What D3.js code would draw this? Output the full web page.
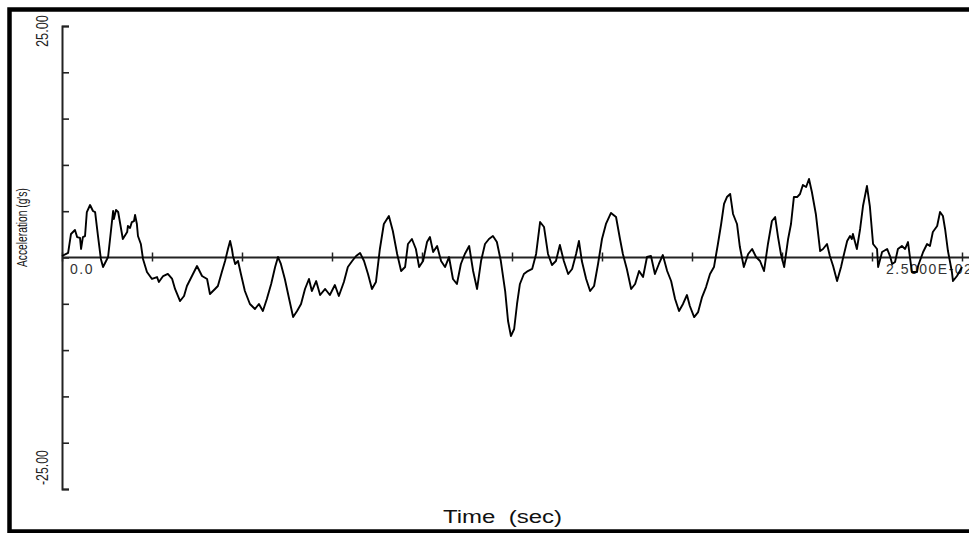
<!DOCTYPE html>
<html><head><meta charset="utf-8">
<script src="https://cdn.jsdelivr.net/npm/d3@7/dist/d3.min.js"></script>
<style>html,body{margin:0;padding:0;background:#fff;} svg{display:block;font-family:"Liberation Sans",Arial,sans-serif;}</style>
</head><body>
<svg id="chart" width="969" height="533"></svg>
<script>
// Time in milliseconds (axis runs 0 .. 2.5000E-02 s)
const timeMs = [0,0.17,0.25,0.36,0.42,0.5,0.53,0.58,0.64,0.69,0.78,0.86,0.92,1.0,1.08,1.14,1.28,1.42,1.44,1.5,1.56,1.69,1.81,1.83,1.89,1.94,2.0,2.03,2.08,2.11,2.19,2.25,2.36,2.5,2.64,2.69,2.81,2.94,3.06,3.14,3.28,3.39,3.47,3.61,3.75,3.89,4.03,4.11,4.25,4.33,4.44,4.53,4.61,4.67,4.72,4.75,4.81,4.89,4.97,5.08,5.22,5.36,5.47,5.58,5.69,5.81,5.92,6.0,6.08,6.19,6.31,6.42,6.53,6.64,6.75,6.86,6.94,7.06,7.17,7.31,7.44,7.58,7.69,7.83,7.94,8.06,8.17,8.28,8.39,8.5,8.61,8.72,8.83,8.94,9.08,9.19,9.31,9.42,9.53,9.61,9.72,9.83,9.92,10.03,10.14,10.22,10.31,10.42,10.53,10.64,10.75,10.86,10.97,11.08,11.19,11.31,11.42,11.53,11.64,11.75,11.86,11.97,12.08,12.19,12.31,12.39,12.47,12.56,12.64,12.72,12.83,12.94,13.06,13.17,13.28,13.39,13.5,13.61,13.72,13.83,13.94,14.06,14.17,14.28,14.36,14.44,14.56,14.67,14.78,14.89,15.0,15.11,15.25,15.39,15.5,15.58,15.69,15.81,15.92,16.03,16.14,16.25,16.36,16.47,16.58,16.69,16.81,16.92,17.03,17.14,17.25,17.36,17.44,17.56,17.67,17.78,17.89,18.0,18.11,18.22,18.31,18.39,18.47,18.56,18.64,18.75,18.83,18.94,19.06,19.17,19.28,19.39,19.5,19.61,19.72,19.81,19.89,19.97,20.06,20.17,20.25,20.33,20.42,20.5,20.58,20.67,20.75,20.83,20.94,21.06,21.14,21.25,21.33,21.42,21.53,21.64,21.69,21.81,21.89,21.94,21.97,22.08,22.17,22.25,22.36,22.44,22.53,22.64,22.67,22.78,22.92,23.0,23.06,23.14,23.22,23.33,23.42,23.5,23.56,23.61,23.75,23.78,23.83,23.92,24.03,24.11,24.19,24.31,24.39,24.47,24.53,24.61,24.72,24.75,24.86,24.94,25.0];
// Acceleration in g's
const accelG = [0.16,0.49,2.54,2.97,2.21,2.11,0.92,2.21,2.32,4.91,5.67,5.02,4.91,2.32,-0.16,-1.03,0.05,5.02,4.16,5.13,4.91,2.00,2.75,3.40,3.19,3.83,3.94,4.59,3.62,2.32,1.46,-0.16,-1.57,-2.32,-2.11,-2.65,-2.00,-1.78,-2.32,-3.40,-4.70,-4.16,-3.08,-2.00,-0.92,-2.00,-2.32,-3.94,-3.40,-3.08,-1.57,-0.38,0.92,1.78,0.92,0.16,-0.70,-0.38,-1.78,-3.62,-5.02,-5.56,-5.02,-5.78,-4.48,-2.86,-1.03,0.05,-0.70,-2.32,-4.48,-6.43,-5.78,-5.02,-3.40,-2.32,-3.62,-2.54,-4.05,-3.40,-4.05,-2.97,-4.16,-2.65,-1.03,-0.38,0.16,0.49,-0.38,-1.78,-3.40,-2.65,0.92,3.62,4.48,2.86,0.38,-1.46,-1.03,1.46,2.00,0.92,-1.03,-0.38,1.67,2.21,0.59,1.24,-0.38,-1.03,0.05,-2.32,-2.86,-0.70,0.38,1.24,-1.46,-3.40,-0.38,1.46,2.00,2.32,1.67,-0.38,-3.62,-6.86,-8.48,-7.72,-5.02,-2.86,-1.78,-1.46,-1.24,0.38,3.83,3.29,0.38,-0.81,-0.38,1.35,-0.38,-1.78,-1.24,0.38,1.78,-0.38,-2.32,-3.62,-3.08,-0.70,2.00,3.62,4.81,4.37,2.00,0.38,-1.24,-3.40,-2.86,-1.46,-2.11,0.05,0.16,-1.78,-0.70,0.27,-1.46,-2.54,-4.48,-5.78,-5.02,-4.05,-5.24,-6.43,-5.89,-4.27,-3.19,-1.78,-1.03,1.46,3.62,5.78,6.53,6.86,4.70,3.62,1.13,-1.03,0.38,0.92,0.05,-0.38,-1.46,1.46,3.94,4.37,2.21,0.38,-1.03,2.00,3.62,6.53,6.53,6.86,7.83,7.61,8.48,7.07,4.70,0.70,0.92,1.46,0.16,-0.92,-2.54,-1.03,-0.16,1.78,2.32,2.00,2.54,0.92,3.08,5.56,7.72,5.56,1.46,0.92,-1.03,0.59,0.92,0.16,-0.70,-0.49,0.92,1.24,0.92,1.67,-0.16,-1.57,-1.57,-0.92,-0.38,0.59,1.46,1.24,2.75,3.40,4.91,4.48,3.08,0.70,-1.57,-2.54,-2.00,-1.46,-1.03];
const yTicks = [-25,-20,-15,-10,-5,0,5,10,15,20,25];
const xTicks = [0,2.5,5,7.5,10,12.5,15,17.5,20,22.5,25];
const yEndLabels = ["-25.00","25.00"];
const xEndLabels = ["0.0","2.5000E-02"];
const xTitle = "Time  (sec)";
const yTitle = "Acceleration (g's)";

const W = 969, H = 533;
const svg = d3.select("#chart");
const x = d3.scaleLinear().domain([0,25]).range([62,962]);
const y = d3.scaleLinear().domain([-25,25]).range([489,26]);

// frame
svg.append("rect").attr("x",9.5).attr("y",9.5).attr("width",990).attr("height",522)
  .attr("fill","none").attr("stroke","#000").attr("stroke-width",4.5);

// y axis
const gy = svg.append("g").attr("transform",`translate(${x(0)},0)`)
  .call(d3.axisRight(y).tickValues(yTicks).tickSize(7).tickSizeOuter(7).tickFormat(""));
gy.select(".domain").attr("stroke","#222").attr("stroke-width",2);
gy.selectAll(".tick line").attr("stroke","#222").attr("stroke-width",1.6);

// x axis (zero line)
const gx = svg.append("g").attr("transform",`translate(0,${y(0)})`)
  .call(d3.axisBottom(x).tickValues(xTicks).tickSizeOuter(0).tickFormat(""));
gx.select(".domain").attr("d",`M${x.range()[0]},0H${W}`).attr("stroke","#222").attr("stroke-width",1.8);
gx.selectAll(".tick line").attr("y1",-5).attr("y2",4).attr("stroke","#222").attr("stroke-width",1.5);

// x tick labels
svg.append("text").attr("x",x(0)+8).attr("y",y(0)+16.5).attr("font-size",14)
  .attr("letter-spacing",1.5).attr("fill","#333").text(xEndLabels[0]);
svg.append("text").attr("x",x(25)-76).attr("y",y(0)+16).attr("font-size",14)
  .attr("letter-spacing",1.5).attr("fill","#333").text(xEndLabels[1]);

// rotated, horizontally condensed text helper
function vtext(tx, ty, str, size, len, fill){
  const t = svg.append("text").attr("font-size",size).attr("fill",fill).text(str);
  const natural = t.node().getComputedTextLength();
  t.attr("transform",`translate(${tx},${ty}) rotate(-90) scale(${len/natural},1)`);
  return t;
}
vtext(47.5, y(25)+21, yEndLabels[1], 16, 32, "#222");
vtext(48, y(-25)-4, yEndLabels[0], 16, 35, "#222");
vtext(26.5, 267, yTitle, 15.5, 79, "#111");

svg.append("text").attr("x",443).attr("y",523).attr("font-size",18).style("white-space","pre")
  .attr("textLength",119).attr("lengthAdjust","spacingAndGlyphs").attr("fill","#111").text(xTitle);

// signal
const pts = timeMs.map((t,i)=>({t, g: accelG[i]}));
svg.append("path").datum(pts)
  .attr("d", d3.line().x(d=>x(d.t)).y(d=>y(d.g)))
  .attr("fill","none").attr("stroke","#000").attr("stroke-width",1.9).attr("stroke-linejoin","round");
</script>
</body></html>
